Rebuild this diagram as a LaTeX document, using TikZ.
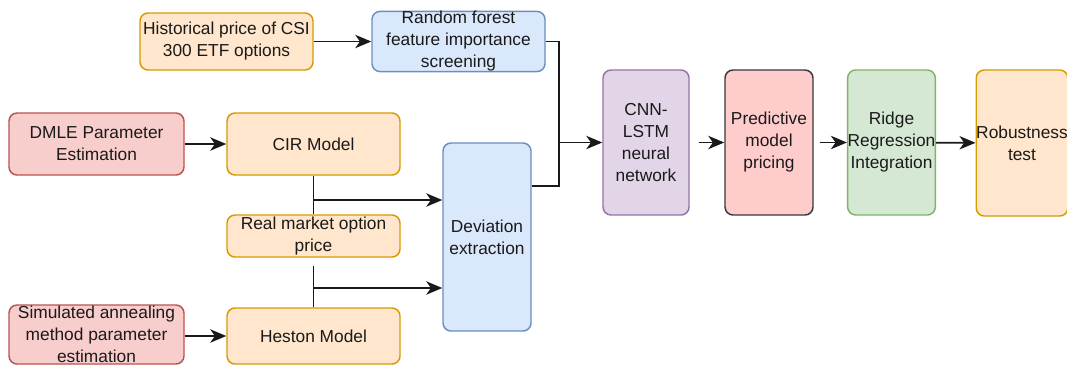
\documentclass[tikz,border=0pt]{standalone}
\usepackage{fontspec}
\setmainfont{Liberation Sans}
\usetikzlibrary{arrows.meta}
\definecolor{orF}{HTML}{FFE6CC}\definecolor{orD}{HTML}{D79B00}
\definecolor{blF}{HTML}{DAE8FC}\definecolor{blD}{HTML}{6C8EBF}
\definecolor{rdF}{HTML}{F8CECC}\definecolor{rdD}{HTML}{B85450}
\definecolor{puF}{HTML}{E1D5E7}\definecolor{puD}{HTML}{9673A6}
\definecolor{pkF}{HTML}{FFCCCC}\definecolor{pkD}{HTML}{36393D}
\definecolor{grF}{HTML}{D5E8D4}\definecolor{grD}{HTML}{82B366}
\definecolor{txt}{HTML}{1A1A1A}
\begin{document}
\begin{tikzpicture}[x=0.75pt,y=-0.75pt,
  box/.style={draw, rounded corners=6pt, line width=1.1pt, align=center, inner sep=0pt,
    text=txt, font=\fontsize{13}{16.5}\selectfont},
  orbox/.style={box, fill=orF, draw=orD},
  blbox/.style={box, fill=blF, draw=blD},
  rdbox/.style={box, fill=rdF, draw=rdD},
  pubox/.style={box, fill=puF, draw=puD},
  pkbox/.style={box, fill=pkF, draw=pkD},
  grbox/.style={box, fill=grF, draw=grD},
  wide/.style={minimum width=129.75pt},
  conn/.style={line width=1.3pt, draw=black!90},
  arr/.style={conn, -{Stealth[length=12pt,width=10pt,inset=3.5pt]}}]
\useasboundingbox (0,0) rectangle (1067,365);
\fill[white] (0,0) rectangle (1067,365);

\node[orbox, wide, minimum height=42.75pt] (hist) at (226.5,41.5) {Historical price of CSI\\300 ETF options};
\node[blbox, wide, minimum height=42.75pt] (rf) at (458.5,41.5) {Random forest\\feature importance\\screening};
\node[rdbox, minimum width=131.25pt, minimum height=46.5pt] (dmle) at (96.5,144) {DMLE Parameter\\Estimation};
\node[orbox, wide, minimum height=46.5pt] (cir) at (313.5,144) {CIR Model};
\node[orbox, wide, minimum height=31.5pt] (real) at (313.5,236) {Real market option\\price};
\node[orbox, wide, minimum height=42pt] (heston) at (313.5,336) {Heston Model};
\node[rdbox, minimum width=131.25pt, minimum height=44.25pt] (sa) at (96.5,334.5) {Simulated annealing\\method parameter\\estimation};
\node[blbox, minimum width=66pt, minimum height=141pt] (dev) at (487,237) {Deviation\\extraction};
\node[pubox, minimum width=64.5pt, minimum height=108.75pt] (cnn) at (646,142.5) {CNN-\\LSTM\\neural\\network};
\node[pkbox, minimum width=66pt, minimum height=108.75pt] (pred) at (769,142.5) {Predictive\\model\\pricing};
\node[grbox, minimum width=65.25pt, minimum height=108.75pt] (ridge) at (891.5,142.5) {Ridge\\Regression\\Integration};
\node[orbox, minimum width=66pt, minimum height=109.5pt] (rob) at (1022,143) {Robustness\\test};

\coordinate (j) at (559,142.5);
\coordinate (b1) at (313.5,200);
\coordinate (b2) at (313.5,288);

\draw[arr] (hist) -- (rf);
\draw[conn] (rf.east) -| (j);
\draw[conn] ([yshift=38.25pt]dev.east) -| (j);
\draw[arr] (j) -- (cnn.west);
\draw[arr] (dmle) -- (cir);
\draw[arr] (sa.east |- heston) -- (heston.west);
\draw[conn] (cir.south) -- (real.north);
\draw[arr] (b1) -- (b1 -| dev.west);
\draw[conn] (heston.north) -- ([yshift=-6pt]real.south);
\draw[arr] (b2) -- (b2 -| dev.west);
\draw[arr, shorten <=6.75pt] (cnn) -- (pred);
\draw[arr, shorten <=4.5pt] (pred) -- (ridge);
\draw[arr] (ridge) -- (rob);
\end{tikzpicture}
\end{document}
